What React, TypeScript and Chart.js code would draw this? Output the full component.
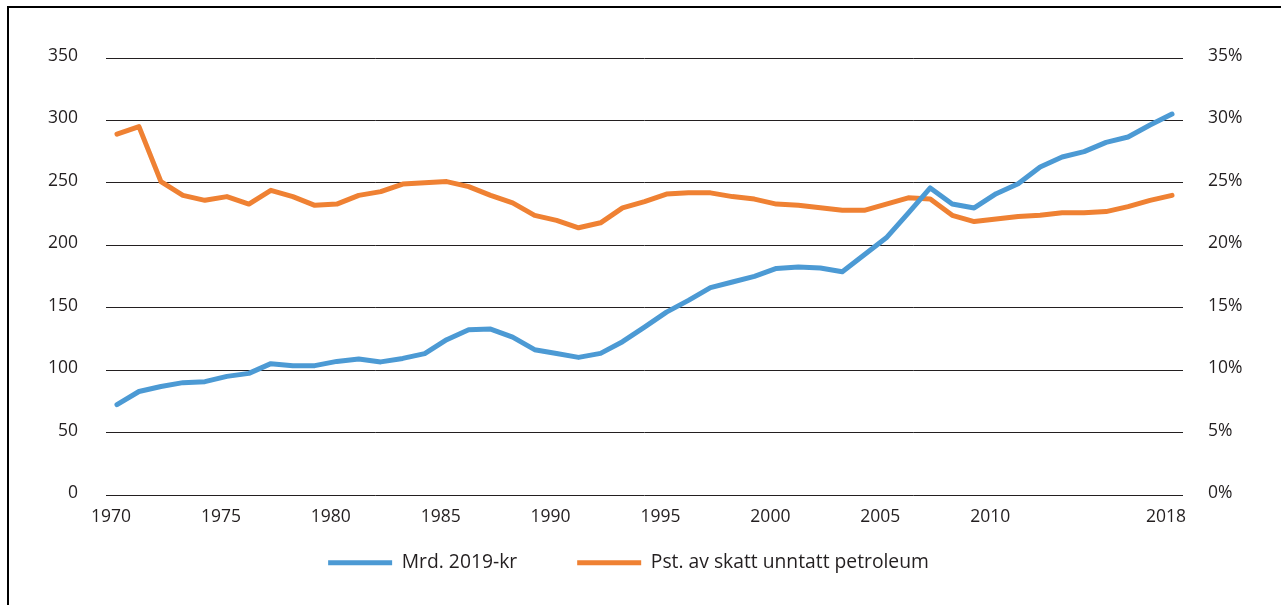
import React, { useEffect, useRef } from "react";
import { Chart, registerables } from "chart.js";

Chart.register(...registerables);

const YEARS = [
  "1970", "1971", "1972", "1973", "1974", "1975", "1976", "1977", "1978", "1979",
  "1980", "1981", "1982", "1983", "1984", "1985", "1986", "1987", "1988", "1989",
  "1990", "1991", "1992", "1993", "1994", "1995", "1996", "1997", "1998", "1999",
  "2000", "2001", "2002", "2003", "2004", "2005", "2006", "2007", "2008", "2009",
  "2010", "2011", "2012", "2013", "2014", "2015", "2016", "2017", "2018",
];

const TICK_YEARS = ["1970", "1975", "1980", "1985", "1990", "1995", "2000", "2005", "2010", "2018"];

// Mrd. 2019-kr (left axis)
const MRD_2019_KR = [
  72.4, 82.9, 86.9, 90.0, 90.8, 95.0, 97.4, 105.2, 103.6, 103.6,
  107.0, 109.0, 106.6, 109.4, 113.2, 124.4, 132.4, 132.9, 126.5, 116.4,
  113.4, 110.2, 113.4, 122.8, 134.5, 146.5, 155.9, 166.1, 170.6, 175.1,
  181.5, 182.6, 181.8, 178.8, 192.4, 206.0, 225.8, 245.9, 233.1, 229.9,
  241.3, 249.3, 262.7, 270.7, 275.0, 282.4, 286.7, 296.3, 305.1,
];

// Pst. av skatt unntatt petroleum (right axis, %)
const PST_AV_SKATT = [
  28.9, 29.5, 25.1, 24.0, 23.6, 23.9, 23.3, 24.4, 23.9, 23.2,
  23.3, 24.0, 24.3, 24.9, 25.0, 25.1, 24.7, 24.0, 23.4, 22.4,
  22.0, 21.4, 21.8, 23.0, 23.5, 24.1, 24.2, 24.2, 23.9, 23.7,
  23.3, 23.2, 23.0, 22.8, 22.8, 23.3, 23.8, 23.7, 22.4, 21.9,
  22.1, 22.3, 22.4, 22.6, 22.6, 22.7, 23.1, 23.6, 24.0,
];

const LEFT_MAX = 350;
const LEFT_STEP = 50;
const RIGHT_MAX = 35;
const RIGHT_STEP = 5;

const SERIES_LABELS = ["Mrd. 2019-kr", "Pst. av skatt unntatt petroleum"];
const BLUE = "#4C9AD4";
const ORANGE = "#EF8133";
const TEXT = "#231F20";
const FONT = "'Open Sans', 'Noto Sans', sans-serif";
const LEGEND_SHIFT_X = -12;
const LEGEND_SHIFT_Y = -38;

// Moves the legend box (horizontal centre and vertical placement) and keeps
// its clip area large enough for the labels.
const legendShift = {
  id: "legendShift",
  afterLayout(chart: any) {
    const l = chart.legend;
    if (l) {
      l.left += LEGEND_SHIFT_X;
      l.right += LEGEND_SHIFT_X;
      l.top += LEGEND_SHIFT_Y;
      l.bottom = chart.height;
    }
  },
};

export default function App() {
  const ref = useRef<HTMLCanvasElement | null>(null);

  useEffect(() => {
    if (!ref.current) return;
    const chart = new Chart(ref.current, {
      type: "line",
      data: {
        labels: YEARS,
        datasets: [
          {
            label: SERIES_LABELS[0],
            data: MRD_2019_KR,
            yAxisID: "y",
            borderColor: BLUE,
            backgroundColor: BLUE,
            borderWidth: 5,
            borderCapStyle: "round",
            borderJoinStyle: "round",
            pointRadius: 0,
            tension: 0,
            fill: false,
          },
          {
            label: SERIES_LABELS[1],
            data: PST_AV_SKATT,
            yAxisID: "y1",
            borderColor: ORANGE,
            backgroundColor: ORANGE,
            borderWidth: 5,
            borderCapStyle: "round",
            borderJoinStyle: "round",
            pointRadius: 0,
            tension: 0,
            fill: false,
          },
        ],
      },
      options: {
        responsive: false,
        animation: false,
        devicePixelRatio: 1,
        layout: { padding: { top: 58, bottom: 34, left: 0, right: 0 } },
        plugins: {
          tooltip: { enabled: false },
          legend: {
            position: "bottom",
            maxHeight: 40,
            labels: {
              color: TEXT,
              font: { family: FONT, size: 19.3 },
              usePointStyle: true,
              pointStyle: "line",
              pointStyleWidth: 64,
              padding: 60,
            },
          },
        },
        scales: {
          x: {
            type: "category",
            offset: true,
            grid: { display: false, drawTicks: false },
            border: { display: false },
            afterFit: (s: any) => {
              s.height = 36;
            },
            ticks: {
              autoSkip: false,
              maxRotation: 0,
              minRotation: 0,
              padding: 12,
              labelOffset: -6,
              color: TEXT,
              font: { family: FONT, size: 17.5 },
              callback: function (this: any, _v: any, i: number) {
                const y = YEARS[i];
                return TICK_YEARS.includes(y) ? y : "";
              },
            },
          },
          y: {
            position: "left",
            min: 0,
            max: LEFT_MAX,
            afterFit: (s: any) => {
              s.width = 106;
            },
            grid: { color: TEXT, lineWidth: 1, drawTicks: false },
            border: { display: false },
            ticks: {
              stepSize: LEFT_STEP,
              padding: 28,
              labelOffset: -2,
              color: TEXT,
              font: { family: FONT, size: 17.5 },
            },
          },
          y1: {
            position: "right",
            min: 0,
            max: RIGHT_MAX,
            afterFit: (s: any) => {
              s.width = 98;
            },
            grid: { display: false, drawTicks: false },
            border: { display: false },
            ticks: {
              stepSize: RIGHT_STEP,
              padding: 25,
              labelOffset: -2,
              color: TEXT,
              font: { family: FONT, size: 17.5 },
              callback: (v: any) => `${v}%`,
            },
          },
        },
      },
      plugins: [legendShift],
    } as any);
    return () => chart.destroy();
  }, []);

  return (
    <div
      style={{
        position: "fixed",
        left: 0,
        top: 0,
        width: 1281,
        height: 605,
        background: "#fff",
        overflow: "hidden",
      }}
    >
      <canvas ref={ref} width={1281} height={605} style={{ display: "block" }} />
      <div
        style={{
          position: "absolute",
          left: 7,
          top: 6,
          right: 0,
          bottom: 0,
          borderLeft: "2px solid #000",
          borderTop: "2px solid #000",
          pointerEvents: "none",
        }}
      />
    </div>
  );
}
